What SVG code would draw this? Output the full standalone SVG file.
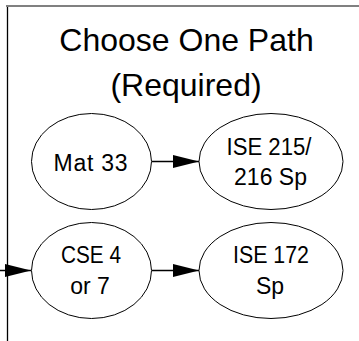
<svg xmlns="http://www.w3.org/2000/svg" width="359" height="341" viewBox="0 0 359 341">
<defs>
<style>
.n ellipse{fill:#fff;stroke:#000;stroke-width:1}
text{font-family:"Liberation Sans",Arial,sans-serif;fill:#000;text-anchor:middle}
.t{font-size:32px}
.l{font-size:23px}
.c line{stroke:#000;stroke-width:1.5}
</style>
<marker id="ah" markerUnits="userSpaceOnUse" markerWidth="26" markerHeight="13" refX="26" refY="6.5" orient="auto">
<path d="M0,0 L26,6.5 L0,13 Z" fill="#000"/>
</marker>
</defs>
<rect width="359" height="341" fill="#fff"/>
<g id="frame">
<line x1="6" y1="6" x2="359" y2="6" stroke="#808080" stroke-width="2"/>
<line x1="7.5" y1="7" x2="7.5" y2="341" stroke="#000" stroke-width="1.3"/>
<text class="t" x="186.5" y="51">Choose One Path</text>
<text class="t" x="186" y="96">(Required)</text>
</g>
<g class="c" id="connectors">
<line x1="152" y1="161.5" x2="199" y2="161.5" marker-end="url(#ah)"/>
<line x1="152" y1="270.5" x2="199" y2="270.5" marker-end="url(#ah)"/>
<line x1="0" y1="270.5" x2="31" y2="270.5" marker-end="url(#ah)"/>
</g>
<g class="n" id="mat33">
<ellipse cx="91.5" cy="161.5" rx="60" ry="48"/>
<text class="l" x="90.5" y="170.5" textLength="74">Mat 33</text>
</g>
<g class="n" id="ise215">
<ellipse cx="271" cy="161.5" rx="72" ry="48"/>
<text class="l" x="269" y="154.5" textLength="85" lengthAdjust="spacingAndGlyphs">ISE 215/</text>
<text class="l" x="270.5" y="185">216 Sp</text>
</g>
<g class="n" id="cse4">
<ellipse cx="91.5" cy="270.5" rx="60" ry="48"/>
<text class="l" x="91" y="262.5" textLength="60" lengthAdjust="spacingAndGlyphs">CSE 4</text>
<text class="l" x="90" y="293.5">or 7</text>
</g>
<g class="n" id="ise172">
<ellipse cx="271" cy="270.5" rx="72" ry="48"/>
<text class="l" x="271" y="262.5" textLength="76" lengthAdjust="spacingAndGlyphs">ISE 172</text>
<text class="l" x="270" y="293.5">Sp</text>
</g>
</svg>
